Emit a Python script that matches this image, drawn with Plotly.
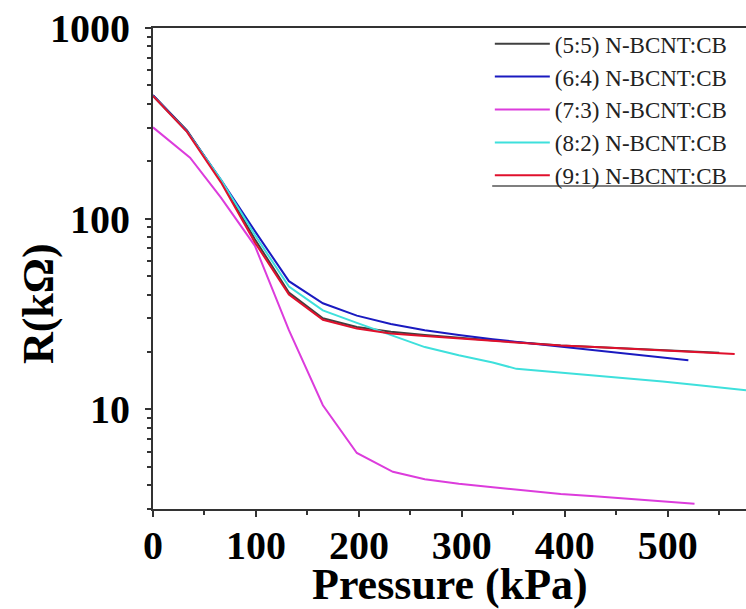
import plotly.graph_objects as go

# ---- data ----
names = ["(5:5) N-BCNT:CB", "(6:4) N-BCNT:CB", "(7:3) N-BCNT:CB", "(8:2) N-BCNT:CB", "(9:1) N-BCNT:CB"]
colors = ["#404040", "#1a1ac0", "#dc3cdc", "#3ee0dc", "#e0102c"]

p_55 = [0, 33, 66, 99, 132, 165, 198, 231, 264, 297, 330, 363, 396, 429, 462, 495, 528, 550]
r_55 = [444, 290, 158, 78, 41, 30, 27, 25.5, 24.5, 23.7, 23.0, 22.3, 21.6, 21.2, 20.8, 20.3, 20.0, 19.8]

p_64 = [0, 33, 66, 99, 132, 165, 198, 231, 264, 297, 330, 363, 396, 429, 462, 495, 520]
r_64 = [444, 288, 160, 86, 47, 36, 31, 28, 26, 24.5, 23.3, 22.3, 21.5, 20.6, 19.6, 18.8, 18.1]

p_73 = [0, 36, 66, 99, 132, 165, 198, 233, 264, 297, 330, 363, 396, 429, 462, 495, 526]
r_73 = [301, 209, 129, 72, 26, 10.5, 5.9, 4.7, 4.3, 4.07, 3.9, 3.75, 3.6, 3.5, 3.4, 3.3, 3.2]

p_82 = [0, 33, 66, 99, 132, 165, 198, 231, 264, 297, 330, 353, 396, 429, 462, 495, 528, 576]
r_82 = [440, 286, 160, 82, 44, 33, 28.4, 24.5, 21.2, 19.2, 17.6, 16.3, 15.6, 15.1, 14.6, 14.0, 13.4, 12.6]

p_91 = [0, 33, 66, 99, 132, 165, 198, 231, 264, 297, 330, 363, 396, 429, 462, 495, 528, 565]
r_91 = [440, 285, 155, 75, 40, 29.5, 26.5, 25, 24.2, 23.5, 22.8, 22.2, 21.6, 21.2, 20.8, 20.4, 20.0, 19.5]

series_p = [p_55, p_64, p_73, p_82, p_91]
series_r = [r_55, r_64, r_73, r_82, r_91]

x_ticks = [0, 100, 200, 300, 400, 500]
y_ticks = [10, 100, 1000]
y_ticklabels = ["10", "100", "1000"]

fig = go.Figure()
for nm, col, px, rv in zip(names, colors, series_p, series_r):
    fig.add_trace(go.Scatter(x=px, y=rv, mode="lines", name=nm,
                             line=dict(color=col, width=2)))

serif = "Liberation Serif, Times New Roman, serif"
fig.update_layout(
    width=746, height=609,
    margin=dict(l=153, r=0, t=28, b=100, autoexpand=False),
    paper_bgcolor="white", plot_bgcolor="white",
    showlegend=True,
    legend=dict(x=0.568, y=1.012, xanchor="left", yanchor="top",
                font=dict(family=serif, size=23, color="#222"),
                bgcolor="rgba(0,0,0,0)", borderwidth=0,
                itemwidth=55, tracegroupgap=0),
    xaxis=dict(range=[0, 576], tickvals=x_ticks, showgrid=False, zeroline=False,
               automargin=False, ticklabeloverflow="allow",
               showline=True, linecolor="#333", linewidth=2, mirror=True,
               ticks="outside", ticklen=6, tickwidth=2, tickcolor="#333",
               ticklabelstandoff=-6,
               minor=dict(ticks="outside", ticklen=4, dtick=50, tickcolor="#333", tickwidth=1.5),
               tickfont=dict(family=serif, size=40, weight="bold", color="black")),
    yaxis=dict(type="log", range=[0.4771, 2.9999], tickvals=y_ticks, ticktext=y_ticklabels,
               showgrid=False, zeroline=False, automargin=False, ticklabeloverflow="allow",
               showline=True, linecolor="#333", linewidth=2,
               ticks="outside", ticklen=6, tickwidth=2, tickcolor="#333",
               ticklabelstandoff=7,
               minor=dict(ticks="outside", ticklen=4, dtick="D1", tickcolor="#333", tickwidth=1.5),
               tickfont=dict(family=serif, size=40, weight="bold", color="black")),
    annotations=[
        dict(text="R(kΩ)", xref="paper", yref="paper", x=-0.194, y=0.428,
             xanchor="center", yanchor="middle", textangle=-90, showarrow=False,
             font=dict(family=serif, size=44, weight="bold", color="black")),
        dict(text="Pressure (kPa)", xref="paper", yref="paper", x=0.5, y=-0.158,
             xanchor="center", yanchor="middle", showarrow=False,
             font=dict(family=serif, size=44, weight="bold", color="black")),
    ],
    shapes=[dict(type="line", xref="paper", yref="paper", x0=0.572, x1=1, y0=0.6715, y1=0.6715,
                 line=dict(color="#555", width=1.5))],
)

fig.write_html("out.html", config={"displayModeBar": False},
               post_script="document.body.style.margin='0';")
